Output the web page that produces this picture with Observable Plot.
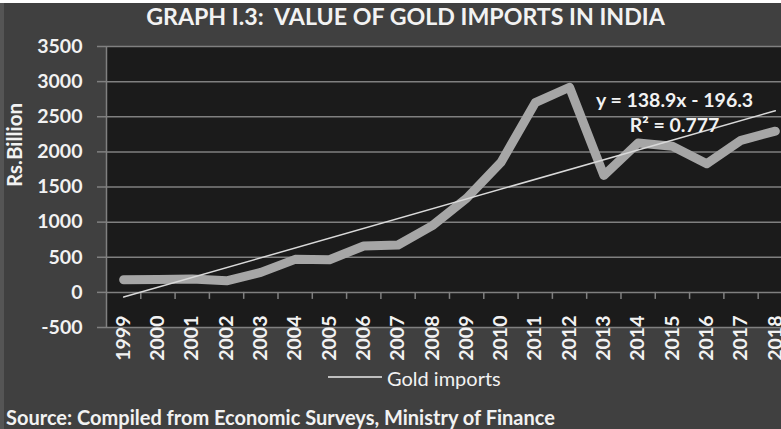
<!DOCTYPE html>
<html>
<head>
<meta charset="utf-8">
<script src="https://cdn.jsdelivr.net/npm/d3@7"></script>
<script src="https://cdn.jsdelivr.net/npm/@observablehq/plot@0.6"></script>
<style>
  html, body { margin: 0; padding: 0; background: #ffffff; }
  #chart { width: 781px; height: 426px; margin-top: 3px; background: #404040; overflow: hidden; position: relative; font-family: Lato, "Open Sans", sans-serif; color: #f2f2f2; box-sizing: border-box; border-left: 4px solid #555555; }
  #title { height: 33px; line-height: 27px; text-align: center; font-size: 23.2px; font-weight: bold; white-space: pre; margin-left: -4px; padding-left: 30px; }
  #plot { height: 330px; margin-left: -4px; }
  #plot svg { overflow: visible; }
  #legend { height: 24px; position: relative; margin-left: -4px; }
  #legend .swatch { position: absolute; left: 328px; top: 10px; width: 54px; height: 2px; background: #bfbfbf; }
  #legend .label { position: absolute; left: 387px; top: 0; line-height: 24px; font-size: 20px; white-space: nowrap; }
  #caption { padding-top: 15px; line-height: 24px; font-size: 20px; font-weight: bold; margin-left: 2px; white-space: nowrap; }
</style>
</head>
<body>
<div id="chart">
  <div id="title">GRAPH I.3:  VALUE OF GOLD IMPORTS IN INDIA</div>
  <div id="plot"></div>
  <div id="legend"><div class="swatch"></div><div class="label">Gold imports</div></div>
  <div id="caption">Source: Compiled from Economic Surveys, Ministry of Finance</div>
</div>
<script>
const years = ["1999","2000","2001","2002","2003","2004","2005","2006","2007","2008","2009","2010","2011","2012","2013","2014","2015","2016","2017","2018"];
const goldImports = [180, 185, 190, 165, 285, 470, 465, 660, 675, 950, 1340, 1850, 2700, 2920, 1665, 2125, 2080, 1830, 2165, 2295];
const yTicks = [-500, 0, 500, 1000, 1500, 2000, 2500, 3000, 3500];
const yLabel = "Rs.Billion";
const seriesName = "Gold imports";
const trendSlope = 138.9;
const trendIntercept = -196.3;
const trendR2 = 0.777;

const data = years.map((year, k) => ({idx: k + 1, year, value: goldImports[k]}));
const xPositions = data.map(d => d.idx);
const bandEdges = data.slice(0, -1).map(d => d.idx + 0.5);
const xDomain = [0.5, 20.18];
const equation = `y = ${trendSlope}x - ${Math.abs(trendIntercept)}\nR² = ${trendR2}`;

const chart = Plot.plot({
  width: 781,
  height: 330,
  marginLeft: 106,
  marginRight: 0,
  marginTop: 10,
  marginBottom: 39,
  style: {background: "transparent", color: "#f2f2f2", fontFamily: "Lato, sans-serif", fontSize: "19.5px", fontWeight: "bold"},
  x: {domain: xDomain},
  y: {domain: [yTicks[0], yTicks[yTicks.length - 1]]},
  marks: [
    Plot.frame({fill: "#1b1b1b", stroke: "none"}),
    Plot.gridY({ticks: yTicks, stroke: "#808080", strokeOpacity: 1, strokeWidth: 1.5}),
    Plot.ruleX([xDomain[0]], {stroke: "#808080", strokeWidth: 1.5}),
    Plot.ruleX(bandEdges, {x: d => d, y1: 0, y2: 0, insetBottom: -7, stroke: "#808080", strokeWidth: 1.5}),
    Plot.axisY({ticks: yTicks, tickFormat: d => String(d), tickSize: 9, tickPadding: 15, stroke: "#808080", strokeWidth: 1.5, label: null, fontSize: 19.5, fontWeight: "bold"}),
    Plot.axisX({ticks: xPositions, tickFormat: d => years[d - 1], tickRotate: -90, tickSize: 0, tickPadding: 0, dy: -12, label: null, fontSize: 19.5, fontWeight: "bold"}),
    Plot.line(data, {x: "idx", y: "value", stroke: "#a6a6a6", strokeWidth: 9, strokeLinecap: "round", strokeLinejoin: "round"}),
    Plot.linearRegressionY(data, {x: "idx", y: "value", ci: 0, stroke: "#d9d9d9", strokeWidth: 1.5}),
    Plot.text([equation], {frameAnchor: "top-right", textAnchor: "middle", lineAnchor: "middle", dx: -107, dy: 65, lineHeight: 1.3, fontSize: 19.5, fontWeight: "bold", fill: "#f2f2f2"}),
    Plot.text([yLabel], {frameAnchor: "left", rotate: -90, dx: -91, fontSize: 20.5, fontWeight: "bold", fill: "#f2f2f2"})
  ]
});
document.getElementById("plot").appendChild(chart);
document.querySelector("#legend .label").textContent = seriesName;
</script>
</body>
</html>
